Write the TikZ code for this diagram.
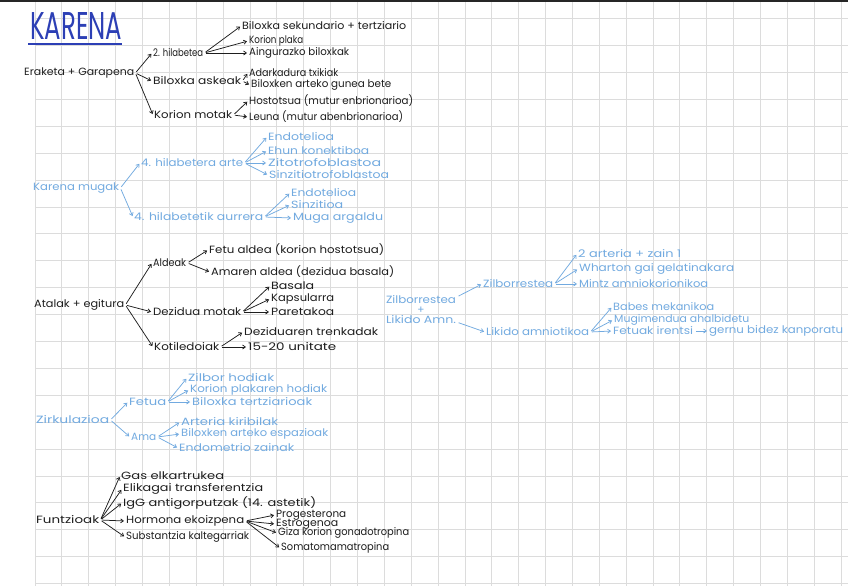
\documentclass[tikz,border=0pt]{standalone}
\usepackage{fontspec}
\setmainfont{Poppins}
\usetikzlibrary{arrows.meta,calc}
\definecolor{ink}{HTML}{1E1E1E}
\definecolor{blu}{HTML}{72AAE0}
\definecolor{ttl}{HTML}{2C3FB5}
\definecolor{gridc}{HTML}{DCDCDC}
\newsavebox{\tbox}
\newcommand{\T}[2]{\sbox{\tbox}{#2}\pgfmathsetmacro{\tfac}{#1pt/\wd\tbox}\scalebox{\tfac}[1]{\usebox{\tbox}}}
\begin{document}
\begin{tikzpicture}[x=1pt,y=-1pt,
  lbl/.style={inner sep=1pt, anchor=west, font=\fontsize{10.5}{12}\selectfont},
  k/.style={lbl,text=ink},
  b/.style={lbl,text=blu},
  arr/.style={-{Straight Barb[length=2.8pt,width=4pt]}, line width=0.75pt, shorten <=1.5pt, shorten >=1pt},
  ka/.style={arr,draw=ink},
  ba/.style={arr,draw=blu}]
\useasboundingbox (0,0) rectangle (848,586);
\fill[white] (0,0) rectangle (848,586);
\foreach \i in {0,...,30} \draw[gridc, line width=0.8pt] ({35+26.87*\i},0) -- ({35+26.87*\i},586);
\foreach \j in {0,...,21} \draw[gridc, line width=0.8pt] (35,{18.6+26.9*\j}) -- (848,{18.6+26.9*\j});
\fill[black!85] (0,0) rectangle (848,2);

% title
\node[anchor=south west, inner sep=0, text=ttl] (title) at (30,40) {\resizebox{92pt}{27pt}{\fontsize{20}{20}\selectfont KARENA}};
\draw[ttl, line width=1.3pt] ([shift={(-2,4)}]title.south west) -- ([shift={(0,4)}]title.south east);

% Eraketa + Garapena
\node[k] (n1) at (23,73) {\T{110}{Eraketa + Garapena}};
\node[k] (n11) at (152,53) {\T{50}{2. hilabetea}};
\node[k] (n111) at (241,26) {\T{164}{Biloxka sekundario + tertziario}};
\node[k] (n112) at (248,41) {\T{54}{Korion plaka}};
\node[k] (n113) at (248,53) {\T{100}{Aingurazko biloxkak}};
\node[k] (n12) at (152,81) {\T{88}{Biloxka askeak}};
\node[k] (n121) at (248,73) {\T{89}{Adarkadura txikiak}};
\node[k] (n122) at (250,85) {\T{140}{Biloxken arteko gunea bete}};
\node[k] (n13) at (153,115) {\T{78}{Korion motak}};
\node[k] (n131) at (248,101) {\T{164}{Hostotsua (mutur enbrionarioa)}};
\node[k] (n132) at (248,117) {\T{154}{Leuna (mutur abenbrionarioa)}};
\draw[ka] (n1.east) -- (n11.west);
\draw[ka] (n1.east) -- (n12.west);
\draw[ka] (n1.east) -- (n13.west);
\foreach \c in {n111,n112,n113} \draw[ka] (n11.east) -- (\c.west);
\foreach \c in {n121,n122} \draw[ka] (n12.east) -- (\c.west);
\foreach \c in {n131,n132} \draw[ka] (n13.east) -- (\c.west);

% Karena mugak
\node[b] (b1) at (32,188) {\T{86}{Karena mugak}};
\node[b] (b11) at (140,163) {\T{102}{4. hilabetera arte}};
\node[b] (b111) at (267,137) {\T{66}{Endotelioa}};
\node[b] (b112) at (267,151) {\T{101}{Ehun konektiboa}};
\node[b] (b113) at (267,163) {\T{113}{Zitotrofoblastoa}};
\node[b] (b114) at (268,175) {\T{120}{Sinzitiotrofoblastoa}};
\node[b] (b12) at (133,217) {\T{129}{4. hilabetetik aurrera}};
\node[b] (b121) at (290,193) {\T{65}{Endotelioa}};
\node[b] (b122) at (290,205) {\T{52}{Sinzitioa}};
\node[b] (b123) at (292,218) {\T{90}{Muga argaldu}};
\draw[ba] (b1.east) -- (b11.west);
\draw[ba] (b1.east) -- (b12.west);
\foreach \c in {b111,b112,b113,b114} \draw[ba] (b11.east) -- (\c.west);
\foreach \c in {b121,b122,b123} \draw[ba] (b12.east) -- (\c.west);

% Atalak + egitura
\node[k] (a1) at (33,305) {\T{90}{Atalak + egitura}};
\node[k] (a11) at (152,263) {\T{33}{Aldeak}};
\node[k] (a111) at (208,250) {\T{175}{Fetu aldea (korion hostotsua)}};
\node[k] (a112) at (210,272) {\T{183}{Amaren aldea (dezidua basala)}};
\node[k] (a12) at (152,312) {\T{88}{Dezidua motak}};
\node[k] (a121) at (270,286) {\T{43}{Basala}};
\node[k] (a122) at (270,299) {\T{63}{Kapsularra}};
\node[k] (a123) at (270,312) {\T{63}{Paretakoa}};
\node[k] (a13) at (153,347) {\T{65}{Kotiledoiak}};
\node[k] (a131) at (243,332) {\T{134}{Deziduaren trenkadak}};
\node[k] (a132) at (247,347) {\T{88}{15-20 unitate}};
\draw[ka] (a1.east) -- (a11.west);
\draw[ka] (a1.east) -- (a12.west);
\draw[ka] (a1.east) -- (a13.west);
\foreach \c in {a111,a112} \draw[ka] (a11.east) -- (\c.west);
\foreach \c in {a121,a122,a123} \draw[ka] (a12.east) -- (\c.west);
\foreach \c in {a131,a132} \draw[ka] (a13.east) -- (\c.west);

% Zilborrestea + Likido Amn.
\node[b, anchor=center, align=center, font=\fontsize{10.5}{10}\selectfont] (z1) at (421,310) {\T{70}{Zilborrestea}\\+\\\T{70}{Likido Amn.}};
\node[b] (z11) at (482,284) {\T{70}{Zilborrestea}};
\node[b] (z111) at (577,254) {\T{103}{2 arteria + zain 1}};
\node[b] (z112) at (578,269) {\T{155}{Wharton gai gelatinakara}};
\node[b] (z113) at (578,284) {\T{129}{Mintz amniokorionikoa}};
\node[b] (z12) at (485,332) {\T{103}{Likido amniotikoa}};
\node[b] (z121) at (612,307) {\T{101}{Babes mekanikoa}};
\node[b] (z122) at (613,320) {\T{135}{Mugimendua ahalbidetu}};
\node[b] (z123) at (612,331) {\T{80}{Fetuak irentsi}};
\node[b] (z124) at (708,331) {\T{134}{gernu bidez kanporatu}};
\draw[ba] ([yshift=-2pt]z1.north east) -- (z11.west);
\draw[ba] ([yshift=3pt]z1.south east) -- (z12.west);
\foreach \c in {z111,z112,z113} \draw[ba] (z11.east) -- (\c.west);
\foreach \c in {z121,z122,z123} \draw[ba] (z12.east) -- (\c.west);
\draw[ba] (z123.east) -- (z124.west);

% Zirkulazioa
\node[b] (c1) at (35,420) {\T{73}{Zirkulazioa}};
\node[b] (c11) at (128,402) {\T{37}{Fetua}};
\node[b] (c111) at (187,378) {\T{86}{Zilbor hodiak}};
\node[b] (c112) at (189,390) {\T{137}{Korion plakaren hodiak}};
\node[b] (c113) at (191,402) {\T{120}{Biloxka tertziarioak}};
\node[b] (c12) at (130,437) {\T{25}{Ama}};
\node[b] (c121) at (180,422) {\T{97}{Arteria kiribilak}};
\node[b] (c122) at (180,434) {\T{147}{Biloxken arteko espazioak}};
\node[b] (c123) at (178,448) {\T{115}{Endometrio zainak}};
\draw[ba] (c1.east) -- (c11.west);
\draw[ba] (c1.east) -- (c12.west);
\foreach \c in {c111,c112,c113} \draw[ba] (c11.east) -- (\c.west);
\foreach \c in {c121,c122,c123} \draw[ba] (c12.east) -- (\c.west);

% Funtzioak
\node[k] (f1) at (35,520) {\T{63}{Funtzioak}};
\node[k] (f11) at (120,476) {\T{103}{Gas elkartrukea}};
\node[k] (f12) at (122,489) {\T{140}{Elikagai transferentzia}};
\node[k] (f13) at (122,503) {\T{193}{IgG antigorputzak (14. astetik)}};
\node[k] (f14) at (125,521) {\T{118}{Hormona ekoizpena}};
\node[k] (f15) at (125,537) {\T{123}{Substantzia kaltegarriak}};
\node[k] (f141) at (275,515) {\T{70}{Progesterona}};
\node[k] (f142) at (275,524) {\T{62}{Estrogenoa}};
\node[k] (f143) at (277,533) {\T{131}{Giza korion gonadotropina}};
\node[k] (f144) at (280,548) {\T{108}{Somatomamatropina}};
\foreach \c in {f11,f12,f13,f14,f15} \draw[ka] (f1.east) -- (\c.west);
\foreach \c in {f141,f142,f143,f144} \draw[ka] (f14.east) -- (\c.west);
\end{tikzpicture}
\end{document}
